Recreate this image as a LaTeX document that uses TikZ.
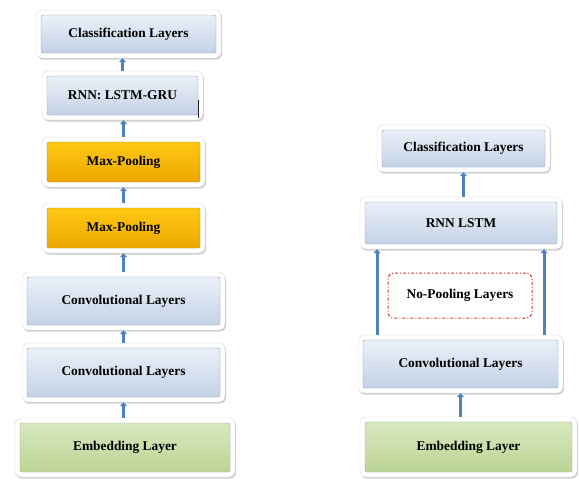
\documentclass[tikz,border=0pt]{standalone}
\usepackage{fontspec}
\setmainfont{Liberation Serif}
\usetikzlibrary{arrows.meta,shadows,calc}

\definecolor{boxblueT}{RGB}{234,240,248}
\definecolor{boxblueB}{RGB}{196,210,231}
\definecolor{boxblueD}{RGB}{140,156,184}
\definecolor{poolT}{RGB}{255,200,20}
\definecolor{poolB}{RGB}{236,168,0}
\definecolor{poolD}{RGB}{190,135,0}
\definecolor{embT}{RGB}{216,232,192}
\definecolor{embB}{RGB}{188,212,148}
\definecolor{embD}{RGB}{150,175,115}
\definecolor{arrblue}{RGB}{79,129,189}
\definecolor{nopool}{RGB}{232,40,40}

\tikzstyle{frame}=[draw=black!15,fill=white,rounded corners=6pt,
  drop shadow={opacity=0.4,shadow xshift=1pt,shadow yshift=-1.5pt}]
\tikzstyle{blue layer}=[draw=boxblueD,rounded corners=2pt,top color=boxblueT,
  bottom color=boxblueB,font=\bfseries\fontsize{13.4}{15}\selectfont]
\tikzstyle{pool layer}=[draw=poolD,rounded corners=2pt,top color=poolT,
  bottom color=poolB,font=\bfseries\fontsize{13.4}{15}\selectfont]
\tikzstyle{emb layer}=[draw=embD,rounded corners=2pt,top color=embT,
  bottom color=embB,font=\bfseries\fontsize{13.4}{15}\selectfont]
\tikzstyle{up}=[draw=arrblue,line width=3pt,-{Triangle[width=7pt,length=4pt]}]

% name, position, width, height, style, text
\newcommand{\layerbox}[6]{%
  \node[frame,minimum width={#3pt+10pt},minimum height={#4pt+10pt}] (#1f) at #2 {};
  \node[#5,minimum width=#3pt,minimum height=#4pt] (#1) at #2 {#6};}

\begin{document}
\begin{tikzpicture}[x=1pt,y=-1pt]
   \useasboundingbox (0,0) rectangle (579,482);

   % Left stack
   \layerbox{cls}{(128.5,34)}{175}{38}{blue layer}{Classification Layers}
   \layerbox{rnn}{(122.5,95.5)}{151}{39}{blue layer}{RNN: LSTM-GRU}
   \layerbox{maxpoolA}{(123.5,162)}{153}{40}{pool layer}{Max-Pooling}
   \layerbox{maxpoolB}{(123.5,228)}{153}{40}{pool layer}{Max-Pooling}
   \layerbox{convA}{(123.5,301)}{193}{48}{blue layer}{Convolutional Layers}
   \layerbox{convB}{(123.5,372.5)}{193}{49}{blue layer}{Convolutional Layers}
   \layerbox{embed}{(125,447.5)}{210}{49}{emb layer}{Embedding Layer}

   \draw[black!85,line width=0.8pt] ($(rnn.south east)+(0,-15)$) -- ($(rnn.south east)+(0,3)$);

   \draw[up] (embedf.north -| convBf) -- (convBf.south);
   \draw[up] (convBf) -- (convAf);
   \draw[up] (convAf) -- (maxpoolBf);
   \draw[up] (maxpoolBf) -- (maxpoolAf);
   \draw[up] (maxpoolAf.north) -- (rnnf.south -| maxpoolAf);
   \draw[up] (rnnf.north) -- (clsf.south -| rnnf);

   % Right stack
   \layerbox{clsR}{(463.5,148.5)}{163}{37}{blue layer}{Classification Layers}
   \layerbox{lstmR}{(461,223)}{192}{42}{blue layer}{RNN LSTM}
   \layerbox{convR}{(460.5,364)}{195}{48}{blue layer}{Convolutional Layers}
   \layerbox{embedR}{(468.5,447)}{207}{50}{emb layer}{Embedding Layer}

   \node[draw=nopool,line width=1pt,dash dot,rounded corners=6pt,
     minimum width=144pt,minimum height=45pt,
     font=\bfseries\fontsize{13.4}{15}\selectfont] (nopoolR) at (460,295.5) {No-Pooling Layers};

   \coordinate (skipL) at (377,0);
   \coordinate (skipR) at (544,0);

   \draw[up] (embedRf.north -| convRf) -- (convRf.south);
   \draw[up] (convRf.north -| skipL) -- (lstmRf.south -| skipL);
   \draw[up] (convRf.north -| skipR) -- (lstmRf.south -| skipR);
   \draw[up] (lstmRf.north -| clsRf) -- (clsRf.south);

\end{tikzpicture}
\end{document}
